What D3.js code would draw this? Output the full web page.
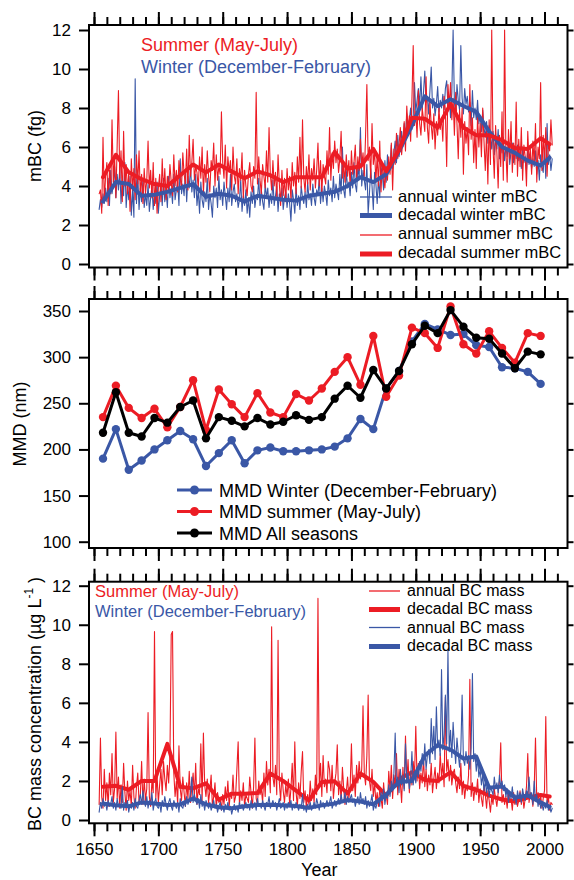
<!DOCTYPE html>
<html>
<head>
<meta charset="utf-8">
<script src="https://cdn.jsdelivr.net/npm/d3@7"></script>
<style>
html, body { margin: 0; padding: 0; background: #fff; }
svg { display: block; font-family: "Liberation Sans", Arial, sans-serif; }
</style>
</head>
<body>
<svg id="chart" width="574" height="880"></svg>
<script>
// ---------- data ----------
const annualStart = 1654;               // first year of the annual records
const decadeYears = [1657,1667,1677,1687,1697,1707,1717,1727,1737,1747,1757,1767,1777,1787,1797,1807,1817,1827,1837,1847,1857,1867,1877,1887,1897,1907,1917,1927,1937,1947,1957,1967,1977,1987,1997,2004];
const mmdYears = [1657,1667,1677,1687,1697,1707,1717,1727,1737,1747,1757,1767,1777,1787,1797,1807,1817,1827,1837,1847,1857,1867,1877,1887,1897,1907,1917,1927,1937,1947,1957,1967,1977,1987,1997];
const majorYears = [1650,1700,1750,1800,1850,1900,1950,2000];
const minorYears = [1650,1660,1670,1680,1690,1700,1710,1720,1730,1740,1750,1760,1770,1780,1790,1800,1810,1820,1830,1840,1850,1860,1870,1880,1890,1900,1910,1920,1930,1940,1950,1960,1970,1980,1990,2000,2010];
const mbcTicks = [0,2,4,6,8,10,12];
const mmdTicks = [100,150,200,250,300,350];
const bcTicks = [0,2,4,6,8,10,12];

// panel 1: single-particle BC mass (fg), annual 1654-2006
const winterAnnualMBC = [
2.8,3.3,2.9,3.6,3.1,3.9,
3.2,4.4,3.0,4.8,3.6,4.1,5.0,3.4,4.6,3.8,
4.9,3.1,4.3,3.5,5.2,2.9,4.0,3.3,4.5,2.5,
3.8,2.4,9.5,3.1,4.6,2.8,3.9,3.2,4.3,2.9,
3.6,3.0,4.1,2.7,3.4,4.0,2.8,3.7,3.1,4.2,
2.6,3.5,4.0,3.0,4.4,3.2,3.8,2.9,4.5,3.4,
3.9,3.1,4.6,3.3,3.8,4.2,3.0,5.4,3.6,4.1,
3.5,4.8,3.2,4.5,3.9,5.0,3.7,4.3,3.4,4.6,
3.0,3.8,2.6,4.2,3.3,2.9,3.7,3.2,4.4,2.8,
3.6,3.1,2.4,4.0,3.4,3.9,2.9,4.5,3.3,3.8,
3.0,4.2,3.5,2.8,3.9,3.2,4.6,3.0,3.7,4.1,
3.2,3.6,2.9,3.3,4.3,2.7,3.5,3.0,3.8,2.6,
3.4,2.4,3.7,3.1,4.0,2.9,3.5,3.3,4.4,3.0,
3.8,3.2,2.8,4.1,3.4,3.9,2.9,3.6,3.1,4.3,
3.0,3.5,4.0,2.7,3.6,3.2,3.9,2.8,3.4,3.7,
2.9,3.6,3.1,2.2,3.8,3.3,2.6,3.9,3.0,3.5,
2.8,4.0,3.4,3.1,3.7,2.9,4.2,3.3,3.6,3.0,
4.1,3.4,3.0,3.8,3.5,4.4,3.1,3.9,3.2,4.0,
3.6,3.0,4.3,3.5,3.9,3.2,4.5,3.4,4.1,3.7,
3.3,4.6,3.6,6.0,3.8,3.4,4.8,3.9,4.2,3.5,
4.7,3.9,5.2,4.1,3.7,5.0,4.4,7.0,4.0,4.8,
4.3,3.8,5.1,2.6,3.6,4.9,4.0,2.8,4.7,4.1,
3.1,4.4,3.4,5.0,4.6,3.8,5.3,4.2,5.6,4.7,
5.0,6.1,4.9,5.7,6.3,5.2,6.6,5.5,6.1,6.8,
6.0,7.2,6.5,7.7,6.8,7.4,8.0,6.9,7.6,9.3,
7.8,8.4,9.0,8.1,9.6,7.9,8.8,9.9,8.3,8.6,
7.7,8.9,10.1,8.0,8.5,7.6,8.2,9.1,7.8,8.4,
8.0,8.7,7.9,9.0,9.4,8.1,8.6,7.5,8.8,12.0,
8.3,7.6,9.2,8.4,7.9,11.2,8.5,7.7,9.0,8.2,
8.6,7.8,8.3,7.1,8.9,7.5,8.0,7.4,8.4,7.2,
7.6,6.8,7.9,7.0,6.5,7.3,6.2,7.1,6.6,5.9,
6.8,5.6,6.4,5.9,6.9,5.4,6.2,5.7,6.5,5.3,
6.0,5.5,6.3,5.1,5.8,6.2,5.2,5.9,5.4,6.1,
5.3,5.7,4.9,6.0,5.2,5.5,4.8,5.9,5.1,5.6,
4.9,5.4,5.0,5.8,4.6,5.3,4.3,5.6,5.0,4.7,
5.9,4.4,7.2,5.1,5.6,4.8,5.4
];
const summerAnnualMBC = [
3.6,3.8,2.6,6.5,3.2,4.5,
5.2,3.0,4.8,3.6,7.4,4.2,5.5,3.4,6.1,8.9,
4.4,5.8,3.2,6.8,4.0,5.1,3.6,4.7,2.7,5.4,
3.8,4.9,3.3,5.6,4.1,5.8,3.5,4.6,3.1,4.9,
3.6,4.3,6.3,3.9,4.8,3.4,5.2,3.0,4.4,2.6,
3.9,4.6,3.2,5.4,3.6,4.9,3.3,4.5,3.8,5.1,
4.2,3.5,5.6,4.0,4.8,3.7,5.3,4.4,3.9,5.7,
4.6,4.1,5.9,3.8,6.6,4.5,5.2,6.4,4.3,5.0,
4.7,3.9,5.5,4.4,6.0,3.6,5.1,4.2,5.8,4.5,
3.7,5.3,4.8,6.2,4.0,5.6,4.3,5.0,4.6,7.8,
5.2,4.4,6.1,3.9,5.5,4.7,5.3,3.8,6.0,4.5,
4.1,5.4,3.6,4.9,4.3,5.7,3.4,4.8,4.0,3.5,
4.6,5.2,4.0,3.7,5.0,4.4,8.8,4.1,5.5,4.3,
3.6,5.1,4.5,3.9,5.8,4.2,7.0,4.6,3.8,5.3,
4.0,4.7,3.4,5.6,4.1,3.0,4.8,3.5,4.4,3.2,
4.9,3.8,4.5,3.3,5.2,4.0,4.7,3.6,5.5,4.2,
6.5,3.9,7.4,4.4,3.7,5.0,4.1,5.6,3.8,4.9,
4.3,5.4,3.9,4.8,6.2,4.0,5.3,3.6,5.1,4.5,
4.1,5.8,4.6,7.0,4.3,5.7,4.9,6.3,5.2,5.9,
4.7,5.4,6.8,4.4,5.1,4.2,5.6,4.5,5.3,4.0,
5.8,4.6,5.2,6.1,4.3,5.5,4.8,6.4,5.0,5.7,
4.5,6.6,9.2,5.3,6.0,4.4,7.2,5.1,5.8,4.2,
5.6,4.0,6.3,3.7,5.2,4.5,3.9,5.0,4.3,5.5,
4.6,6.2,3.8,5.9,5.1,6.7,5.4,6.1,7.0,5.6,
6.4,7.3,5.8,8.1,6.9,7.6,6.3,8.4,11.2,7.1,
7.8,6.5,8.9,7.2,6.6,8.0,7.4,6.8,9.6,7.0,
6.2,8.3,7.1,6.4,7.7,5.9,7.3,6.6,8.0,6.9,
7.5,6.3,8.6,7.9,5.0,9.2,8.1,9.3,7.4,8.5,
6.6,8.8,7.2,5.4,7.9,6.5,8.0,4.6,7.3,6.2,
7.0,5.6,9.2,6.4,7.5,5.2,6.9,4.9,7.6,6.0,
7.2,5.5,8.0,6.3,4.8,6.8,4.1,7.4,5.1,12.0,
6.0,4.4,7.1,5.7,3.9,6.6,5.0,7.8,4.3,12.0,
5.8,4.2,6.9,5.4,7.3,4.7,6.2,5.1,8.3,4.5,
6.4,5.0,7.0,4.3,6.1,5.5,4.0,6.8,5.2,5.9,
4.6,6.3,5.1,7.2,4.2,6.0,5.4,9.3,4.8,6.6,
5.3,7.0,4.5,6.2,5.8,7.4,6.1
];
const winterDecadalMBC = [3.2,4.2,4.1,3.5,3.55,3.7,3.9,4.1,3.45,3.6,3.5,3.2,3.5,3.4,3.3,3.25,3.5,3.6,3.7,4.0,4.45,4.2,4.6,5.8,7.1,8.6,8.1,8.45,8.1,7.8,6.8,6.0,5.7,5.3,5.05,5.45];
const summerDecadalMBC = [4.45,5.6,4.7,4.35,4.1,4.0,4.55,5.1,4.7,5.1,4.75,4.4,4.75,4.55,4.2,4.45,4.45,4.45,5.75,4.9,5.0,5.9,4.75,5.85,7.5,7.45,7.0,8.2,7.0,6.6,6.6,6.35,5.95,5.9,6.45,6.15];

// panel 2: mass median diameter (nm), decadal
const mmdWinter = [190,222,178,188,200,210,220,211,182,196,210,185,199,202,198,198,199,200,203,212,233,222,266,285,317,336,330,324,325,313,311,289,288,284,271];
const mmdSummer = [235,269,245,234,244,224,246,275,221,265,249,235,261,240,235,260,253,266,284,300,270,323,257,280,332,326,310,355,314,304,328,310,294,326,323];
const mmdAll    = [218,262,218,214,234,229,246,253,212,235,231,225,234,227,230,237,232,235,255,269,256,286,266,285,314,334,326,351,333,321,320,304,288,306,303];

// panel 3: BC mass concentration (µg/L), annual 1654-2006
const summerAnnualBC = [
0.8,4.2,1.2,0.6,2.6,1.0,
1.9,0.7,2.4,1.3,3.4,0.9,1.6,4.5,1.1,2.2,
0.6,1.8,0.9,2.9,1.4,0.5,2.0,1.0,1.5,0.7,
2.8,1.2,0.6,1.7,2.4,0.9,1.3,3.0,0.8,2.1,
1.0,1.6,5.5,1.2,0.7,2.0,1.4,9.65,1.1,2.3,
0.9,1.8,2.6,1.3,3.0,2.1,1.5,2.8,1.9,3.3,
9.5,9.65,2.4,1.2,2.0,0.8,3.8,1.6,1.0,2.2,
1.4,0.7,1.9,1.1,2.5,0.9,1.7,2.4,1.2,2.9,
0.8,1.6,1.3,3.9,1.0,4.45,1.8,1.2,2.1,0.9,
1.5,2.3,0.7,1.2,1.9,0.6,1.4,0.9,1.1,0.5,
1.3,0.8,1.7,1.0,2.0,0.7,1.4,1.1,2.3,0.9,
1.2,2.6,4.0,0.8,1.5,1.0,1.9,0.7,1.3,1.1,
0.9,2.2,1.4,0.6,1.7,4.2,1.1,0.8,2.0,1.3,
1.6,0.9,2.4,1.2,3.0,1.8,2.6,1.4,9.9,2.2,
1.7,2.8,1.3,9.2,1.9,1.0,2.4,1.5,0.9,1.8,
1.2,2.1,0.8,1.6,2.9,1.0,4.0,1.4,0.7,1.9,
1.1,2.5,3.5,0.9,1.5,0.6,1.3,0.8,2.0,1.0,
1.6,0.9,2.3,1.3,11.35,1.8,2.9,1.2,3.3,1.7,
2.1,1.4,3.0,2.6,1.5,2.8,1.1,1.9,2.4,3.85,
1.3,2.0,1.0,2.7,1.6,0.8,1.4,2.2,1.1,1.7,
3.9,1.5,2.3,1.2,2.8,1.9,3.0,2.1,2.6,5.85,
2.4,1.8,3.3,6.4,2.0,1.5,2.6,1.2,1.9,0.9,
1.4,0.7,1.6,1.1,0.6,1.9,1.0,1.3,0.8,2.5,
1.5,2.8,1.1,2.3,1.8,3.4,1.3,2.6,1.9,0.9,
2.7,1.6,4.3,2.0,3.1,1.4,2.5,1.8,3.0,2.2,
4.8,2.0,2.9,1.6,2.4,1.9,3.2,1.7,2.6,1.5,
2.3,1.8,2.9,1.4,2.1,2.7,1.6,2.4,1.9,3.4,
2.2,2.9,1.7,6.3,2.5,3.1,2.0,2.8,1.8,2.4,
2.6,1.9,1.4,2.2,1.6,2.9,1.3,2.0,1.1,1.8,
1.5,2.3,7.2,1.2,1.9,1.0,1.7,1.3,2.1,0.9,
1.6,1.1,0.7,1.8,1.3,0.6,1.5,1.0,0.4,1.2,
0.8,1.6,1.1,0.7,1.4,2.0,3.95,0.9,1.3,0.8,
1.2,0.6,1.5,0.9,1.1,0.5,1.4,0.8,1.2,0.7,
1.0,1.5,0.8,1.3,0.6,1.1,1.7,3.4,0.9,1.4,
1.2,0.7,1.6,4.2,1.0,1.4,0.8,1.3,0.6,1.1,
1.5,5.3,0.7,1.2,0.5,0.9,0.8
];
const winterAnnualBC = [
0.4,0.9,0.6,1.1,0.7,0.9,
0.5,1.0,0.7,0.8,1.2,0.6,0.9,0.5,1.1,0.7,
0.8,0.6,1.7,0.5,0.9,0.7,1.0,0.4,0.8,0.6,
0.9,0.5,1.1,0.7,0.6,1.0,1.3,0.8,1.5,0.9,
0.7,1.2,0.6,1.0,0.8,1.4,0.5,0.9,1.1,0.7,
0.6,0.9,0.4,1.0,0.7,1.2,0.8,0.5,0.9,1.1,
0.7,0.5,1.0,0.8,0.6,0.9,0.4,1.1,0.7,0.6,
0.9,0.7,1.2,0.8,1.0,1.4,2.2,0.9,1.3,1.0,
0.8,1.1,0.6,1.3,0.7,0.9,0.5,1.0,0.8,0.6,
0.9,0.5,0.7,1.0,0.6,0.8,0.4,0.7,0.9,0.5,
0.7,0.4,0.8,0.6,0.9,0.5,0.7,0.3,0.6,0.8,
0.5,0.7,0.4,0.9,0.6,0.8,0.5,0.7,0.9,0.6,
0.8,0.5,1.0,0.6,0.7,0.9,0.5,1.1,0.7,0.8,
0.6,1.0,0.7,0.5,0.9,0.8,1.2,0.6,0.8,1.0,
0.7,0.9,0.5,0.8,1.1,0.6,0.7,0.9,0.5,0.8,
0.6,0.9,0.7,1.0,0.5,0.8,0.6,0.9,0.7,0.5,
0.8,0.6,1.3,0.5,0.7,0.4,0.8,0.6,0.9,0.5,
0.7,0.9,0.6,1.1,0.8,0.5,1.0,0.7,0.9,0.6,
0.8,1.0,0.7,0.9,1.2,0.6,0.8,1.0,0.7,0.9,
1.1,0.8,1.3,0.9,1.0,1.4,0.8,1.2,0.9,1.1,
1.3,0.9,1.1,0.7,1.0,1.2,0.8,1.4,0.9,1.1,
0.8,1.2,0.6,1.0,0.7,0.9,1.3,0.5,0.8,0.6,
0.9,1.1,0.7,1.4,1.0,1.6,0.8,1.3,1.1,1.8,
1.2,2.0,1.5,2.4,4.45,1.7,2.2,1.4,2.6,1.8,
2.3,1.5,3.9,1.9,2.4,1.6,2.1,3.5,1.8,2.5,
1.9,2.7,2.2,3.0,2.5,3.4,2.8,3.9,2.6,3.3,
3.6,2.9,5.2,3.4,4.8,3.1,5.8,3.7,4.1,3.3,
7.7,3.6,4.4,6.4,3.9,8.7,3.5,4.6,3.2,5.0,
3.8,2.9,4.2,3.4,2.7,3.6,6.4,3.1,2.8,3.5,
2.9,3.3,2.6,3.7,7.5,3.0,3.4,2.5,3.2,2.2,
2.6,1.8,2.3,1.5,2.0,1.4,1.9,1.2,1.7,1.5,
1.3,2.2,1.6,1.9,1.4,2.3,1.7,2.0,1.5,1.8,
1.2,1.6,0.9,1.4,1.1,1.7,1.0,1.3,0.8,1.5,
1.1,1.4,0.9,1.6,1.2,1.0,1.5,1.3,2.2,1.1,
1.4,0.8,2.0,1.0,1.3,0.7,1.1,0.6,0.9,0.5,
0.8,0.6,1.0,0.5,0.7,0.4,0.6
];
const summerDecadalBC = [1.7,1.75,1.55,2.0,2.0,3.9,1.7,1.62,1.88,1.05,1.35,1.35,1.38,2.38,2.0,1.5,1.0,1.95,1.98,1.35,2.38,1.95,1.25,2.1,2.45,2.05,2.0,2.45,1.75,1.55,1.25,1.05,0.95,1.15,1.28,1.2];
const winterDecadalBC = [0.85,0.75,0.7,0.9,0.85,0.77,0.8,1.1,0.8,0.65,0.6,0.7,0.77,0.78,0.75,0.72,0.62,0.75,0.85,1.02,0.95,0.8,1.3,1.95,2.0,3.3,3.84,3.6,3.15,3.25,1.65,1.72,1.15,1.25,0.9,0.68];

// ---------- drawing ----------
const RED = "#ec1c24", BLUE = "#3a57a6", BLACK = "#000";
const svg = d3.select("#chart");
const left = 89, right = 567.5;
const x = d3.scaleLinear().domain([1650, 2000]).range([94, 544.5]);

const panels = {
  top:    { top: 25,    bottom: 267.5, y: d3.scaleLinear().domain([0, 12]).range([264, 30]), ticks: mbcTicks },
  middle: { top: 299,   bottom: 548,   y: d3.scaleLinear().domain([100, 350]).range([541.7, 311]), ticks: mmdTicks },
  bottom: { top: 581.7, bottom: 823.3, y: d3.scaleLinear().domain([0, 12]).range([820, 585.7]), ticks: bcTicks }
};

function styleAxis(g) {
  g.select(".domain").remove();
  g.selectAll(".tick line").attr("stroke", "#000").attr("stroke-width", 2);
  g.selectAll(".tick text").attr("fill", "#000").style("font-size", "17px")
    .style("font-family", '"Liberation Sans", Arial, sans-serif');
}

function drawAxes(p, withLabels) {
  const g = svg.append("g");
  // years along top and bottom edges
  g.append("g").attr("transform", `translate(0,${p.top})`)
    .call(d3.axisTop(x).tickValues(minorYears).tickSize(8).tickFormat("")).call(styleAxis);
  g.append("g").attr("transform", `translate(0,${p.top})`)
    .call(d3.axisTop(x).tickValues(majorYears).tickSize(13).tickFormat("")).call(styleAxis);
  g.append("g").attr("transform", `translate(0,${p.bottom})`)
    .call(d3.axisBottom(x).tickValues(minorYears).tickSize(8).tickFormat("")).call(styleAxis);
  g.append("g").attr("transform", `translate(0,${p.bottom})`)
    .call(d3.axisBottom(x).tickValues(majorYears).tickSize(13).tickPadding(7)
      .tickFormat(withLabels ? d3.format("d") : ""))
    .call(styleAxis);
  // value axes
  g.append("g").attr("transform", `translate(${left},0)`)
    .call(d3.axisLeft(p.y).tickValues(p.ticks).tickSize(10).tickPadding(8).tickFormat(d3.format("d")))
    .call(styleAxis);
  g.append("g").attr("transform", `translate(${right},0)`)
    .call(d3.axisRight(p.y).tickValues(p.ticks).tickSize(6).tickFormat(""))
    .call(styleAxis);
  // frame
  g.append("rect").attr("x", left).attr("y", p.top)
    .attr("width", right - left).attr("height", p.bottom - p.top)
    .attr("fill", "none").attr("stroke", "#000").attr("stroke-width", 2);
}

function annualLine(y) {
  return d3.line().x((d, i) => x(annualStart + i)).y(d => y(d));
}
function decadalLine(y) {
  return d3.line().x((d, i) => x(decadeYears[i])).y(d => y(d));
}
function path(data, gen, color, width) {
  svg.append("path").datum(data).attr("d", gen)
    .attr("fill", "none").attr("stroke", color).attr("stroke-width", width)
    .attr("stroke-linejoin", "round").attr("stroke-linecap", "round");
}

function legendRow(x0, x1, xt, yLine, yText, color, width, label, size, marker) {
  svg.append("line").attr("x1", x0).attr("x2", x1).attr("y1", yLine).attr("y2", yLine)
    .attr("stroke", color).attr("stroke-width", width);
  if (marker) {
    svg.append("circle").attr("cx", (x0 + x1) / 2).attr("cy", yLine).attr("r", 4.5).attr("fill", color);
  }
  svg.append("text").attr("x", xt).attr("y", yText).attr("fill", "#000")
    .style("font-size", size + "px").text(label);
}

// ---- panel 1: mBC ----
{
  const p = panels.top;
  path(winterAnnualMBC, annualLine(p.y), BLUE, 1.1);
  path(summerAnnualMBC, annualLine(p.y), RED, 1.1);
  path(winterDecadalMBC, decadalLine(p.y), BLUE, 4);
  path(summerDecadalMBC, decadalLine(p.y), RED, 4);
  drawAxes(p, false);

  svg.append("text").attr("x", 141).attr("y", 51).attr("fill", RED).style("font-size", "18px").text("Summer (May-July)");
  svg.append("text").attr("x", 141).attr("y", 73).attr("fill", BLUE).style("font-size", "18px").text("Winter (December-February)");

  legendRow(360, 392, 398, 197, 201.5, BLUE, 1.3, "annual winter mBC", 16.5);
  legendRow(360, 392, 398, 215.5, 220, BLUE, 5, "decadal winter mBC", 16.5);
  legendRow(360, 392, 398, 235, 238.5, RED, 1.3, "annual summer mBC", 16.5);
  legendRow(360, 392, 398, 254, 257.5, RED, 5, "decadal summer mBC", 16.5);

  svg.append("text").attr("transform", "translate(41,146) rotate(-90)")
    .attr("text-anchor", "middle").style("font-size", "18px").text("mBC (fg)");
}

// ---- panel 2: MMD ----
{
  const p = panels.middle;
  const series = [[mmdWinter, BLUE], [mmdSummer, RED], [mmdAll, BLACK]];
  series.forEach(([vals, color]) => {
    const line = d3.line().x((d, i) => x(mmdYears[i])).y(d => p.y(d));
    path(vals, line, color, 3);
    svg.append("g").selectAll("circle").data(vals).join("circle")
      .attr("cx", (d, i) => x(mmdYears[i])).attr("cy", d => p.y(d))
      .attr("r", 4.2).attr("fill", color);
  });
  drawAxes(p, false);

  legendRow(177, 212, 219, 490, 496.5, BLUE, 3, "MMD Winter (December-February)", 18, true);
  legendRow(177, 212, 219, 511.5, 518, RED, 3, "MMD summer (May-July)", 18, true);
  legendRow(177, 212, 219, 533, 539.5, BLACK, 3, "MMD All seasons", 18, true);

  svg.append("text").attr("transform", "translate(26,424) rotate(-90)")
    .attr("text-anchor", "middle").style("font-size", "18px").text("MMD (nm)");
}

// ---- panel 3: BC mass concentration ----
{
  const p = panels.bottom;
  path(summerAnnualBC, annualLine(p.y), RED, 1.1);
  path(summerDecadalBC, decadalLine(p.y), RED, 4);
  path(winterAnnualBC, annualLine(p.y), BLUE, 1.1);
  path(winterDecadalBC, decadalLine(p.y), BLUE, 4);
  drawAxes(p, true);

  svg.append("text").attr("x", 95).attr("y", 597).attr("fill", RED).style("font-size", "16.5px").text("Summer (May-July)");
  svg.append("text").attr("x", 95).attr("y", 617).attr("fill", BLUE).style("font-size", "16.5px").text("Winter (December-February)");

  legendRow(369, 400, 407, 591, 596, RED, 1.3, "annual BC mass", 16);
  legendRow(369, 400, 407, 609.5, 614, RED, 5, "decadal BC mass", 16);
  legendRow(369, 400, 407, 627.5, 632.5, BLUE, 1.3, "annual BC mass", 16);
  legendRow(369, 400, 407, 646.5, 651, BLUE, 5, "decadal BC mass", 16);

  const t = svg.append("text").attr("transform", "translate(41,704) rotate(-90)")
    .attr("text-anchor", "middle").style("font-size", "18px");
  t.append("tspan").text("BC mass concentration (µg L");
  t.append("tspan").attr("dy", -8).style("font-size", "12px").text("-1");
  t.append("tspan").attr("dy", 8).text(" )");

  svg.append("text").attr("x", x(1825)).attr("y", 876).attr("text-anchor", "middle")
    .style("font-size", "18px").text("Year");
}
</script>
</body>
</html>
